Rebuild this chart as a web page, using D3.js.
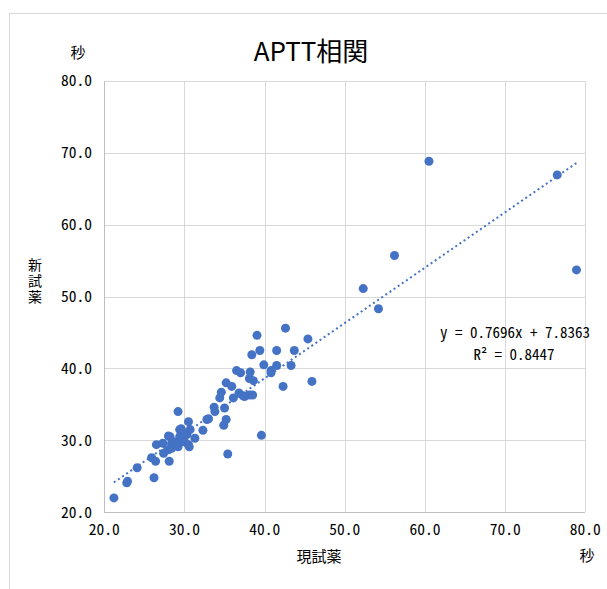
<!DOCTYPE html>
<html>
<head>
<meta charset="utf-8">
<script src="https://cdn.jsdelivr.net/npm/d3@7"></script>
<style>
  body { margin: 0; background: #fff; }
  svg text { fill: #000; }
</style>
</head>
<body>
<div id="chart"></div>
<script>
// Chart size
var width  = 607;
var height = 589;

// Data: [現試薬, 新試薬] in seconds
var currentReagent = [21.2, 22.8, 22.9, 24.1, 25.9, 26.2, 26.4, 26.5, 27.3, 27.4,
                      28.0, 28.1, 28.0, 28.2, 28.4, 28.4, 28.6, 29.2, 29.2, 29.4,
                      29.4, 29.6, 29.6, 30.0, 30.3, 30.5, 30.5, 30.6, 30.7, 30.2,
                      31.3, 32.3, 32.8, 33.0, 33.7, 33.8, 34.4, 35.0, 35.2, 34.9,
                      35.4, 34.6, 35.2, 35.9, 36.1, 36.5, 36.8, 37.0, 37.3, 37.5,
                      38.1, 38.5, 38.1, 38.2, 38.6, 38.4, 39.05, 39.4, 39.6, 39.9,
                      40.8, 40.8, 41.5, 41.5, 42.3, 42.6, 43.3, 43.7, 45.4, 45.9,
                      52.3, 54.2, 56.2, 60.5, 76.5, 78.9];
var newReagent     = [22.0, 24.1, 24.3, 26.2, 27.6, 24.8, 27.1, 29.4, 29.6, 28.2,
                      30.6, 27.1, 28.7, 30.5, 29.6, 28.9, 29.8, 34.0, 29.1, 31.5,
                      30.5, 29.8, 31.6, 29.8, 30.8, 32.6, 29.4, 29.1, 31.5, 31.0,
                      30.3, 31.4, 32.9, 33.0, 34.6, 34.0, 35.9, 34.5, 32.9, 32.1,
                      28.1, 36.7, 38.0, 37.5, 35.9, 39.7, 36.6, 39.4, 36.2, 36.1,
                      36.3, 36.3, 38.6, 39.5, 38.3, 41.9, 44.6, 42.5, 30.7, 40.5,
                      39.7, 39.4, 42.5, 40.4, 37.5, 45.6, 40.4, 42.5, 44.1, 38.2,
                      51.1, 48.3, 55.7, 68.8, 66.9, 53.7];

// Linear trendline reported by the chart
var slope = 0.7696;
var intercept = 7.8363;
var rSquared = 0.8447;

var xTicks = [20, 30, 40, 50, 60, 70, 80];
var yTicks = [20, 30, 40, 50, 60, 70, 80];

var points = currentReagent.map(function(d, i) { return { x: d, y: newReagent[i] }; });

var plot = { left: 104.3, right: 585.3, top: 80.7, bottom: 512.3 };

var x = d3.scaleLinear().domain([20, 80]).range([plot.left, plot.right]);
var y = d3.scaleLinear().domain([20, 80]).range([plot.bottom, plot.top]);

var monoFont = '"Noto Sans Mono CJK JP", "DejaVu Sans Mono", monospace';
var cjkFont  = '"Noto Sans CJK JP", sans-serif';

var svg = d3.select("#chart").append("svg")
    .attr("width", width)
    .attr("height", height);

// Chart frame
svg.append("rect")
    .attr("x", 9.5).attr("y", 13.5)
    .attr("width", 620).attr("height", 600)
    .attr("fill", "#fff")
    .attr("stroke", "#d9d9d9");

// Title
svg.append("text")
    .attr("x", 311).attr("y", 61)
    .attr("text-anchor", "middle")
    .attr("font-family", cjkFont)
    .attr("font-size", "26px")
    .text("APTT相関");

// Gridlines
svg.append("g")
    .attr("transform", "translate(0," + plot.bottom + ")")
    .call(d3.axisBottom(x).tickValues(xTicks).tickSize(-(plot.bottom - plot.top)).tickFormat(""))
    .call(g => g.select(".domain").remove())
    .selectAll("line").attr("stroke", "#d9d9d9").attr("shape-rendering", "crispEdges");

svg.append("g")
    .attr("transform", "translate(" + plot.left + ",0)")
    .call(d3.axisLeft(y).tickValues(yTicks).tickSize(-(plot.right - plot.left)).tickFormat(""))
    .call(g => g.select(".domain").remove())
    .selectAll("line").attr("stroke", "#d9d9d9").attr("shape-rendering", "crispEdges");

// Axis lines
svg.append("line")
    .attr("x1", plot.left).attr("x2", plot.right)
    .attr("y1", plot.bottom).attr("y2", plot.bottom)
    .attr("stroke", "#bfbfbf").attr("shape-rendering", "crispEdges");
svg.append("line")
    .attr("x1", plot.left).attr("x2", plot.left)
    .attr("y1", plot.top).attr("y2", plot.bottom)
    .attr("stroke", "#bfbfbf").attr("shape-rendering", "crispEdges");

// Tick labels
svg.append("g").selectAll("text")
    .data(xTicks).enter().append("text")
    .attr("x", d => x(d))
    .attr("y", 535)
    .attr("text-anchor", "middle")
    .attr("font-family", monoFont)
    .attr("font-size", "15.5px")
    .text(d => d3.format(".1f")(d));

svg.append("g").selectAll("text")
    .data(yTicks).enter().append("text")
    .attr("x", 92)
    .attr("y", d => y(d) + 5.5)
    .attr("text-anchor", "end")
    .attr("font-family", monoFont)
    .attr("font-size", "15.5px")
    .text(d => d3.format(".1f")(d));

// Axis titles
svg.append("text")
    .attr("x", 319).attr("y", 562)
    .attr("text-anchor", "middle")
    .attr("font-family", cjkFont)
    .attr("font-size", "15px")
    .text("現試薬");

// Vertical y title (upright stacked characters)
svg.append("text")
    .attr("x", 35).attr("y", 282)
    .attr("text-anchor", "middle")
    .attr("font-family", cjkFont)
    .attr("font-size", "14px")
    .style("writing-mode", "vertical-rl")
    .style("text-orientation", "upright")
    .style("letter-spacing", "2px")
    .text("新試薬");

// Unit labels
svg.append("text")
    .attr("x", 78).attr("y", 58)
    .attr("text-anchor", "middle")
    .attr("font-family", cjkFont)
    .attr("font-size", "15px")
    .text("秒");
svg.append("text")
    .attr("x", 587).attr("y", 561)
    .attr("text-anchor", "middle")
    .attr("font-family", cjkFont)
    .attr("font-size", "15px")
    .text("秒");

// Points
svg.append("g").selectAll("circle")
    .data(points).enter().append("circle")
    .attr("cx", d => x(d.x))
    .attr("cy", d => y(d.y))
    .attr("r", 4.5)
    .attr("fill", "#4472c4");

// Trendline over the data range
var xExtent = d3.extent(currentReagent);
svg.append("line")
    .attr("x1", x(xExtent[0])).attr("y1", y(slope * xExtent[0] + intercept))
    .attr("x2", x(xExtent[1])).attr("y2", y(slope * xExtent[1] + intercept))
    .attr("stroke", "#4472c4")
    .attr("stroke-width", 2)
    .attr("stroke-dasharray", "2,3");

// Trendline equation
svg.append("text")
    .attr("x", 515).attr("y", 338)
    .attr("text-anchor", "middle")
    .attr("font-family", monoFont)
    .attr("font-size", "15px")
    .text("y = " + slope + "x + " + intercept);
svg.append("text")
    .attr("x", 514).attr("y", 360)
    .attr("text-anchor", "middle")
    .attr("font-family", monoFont)
    .attr("font-size", "15px")
    .text("R² = " + rSquared);
</script>
</body>
</html>
